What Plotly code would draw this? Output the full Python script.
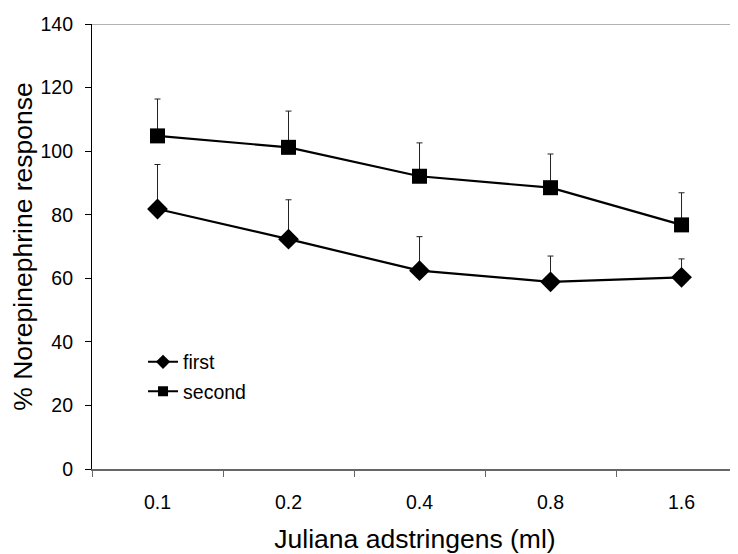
import plotly.graph_objects as go

doses = ["0.1", "0.2", "0.4", "0.8", "1.6"]
first = [81.8, 72.3, 62.4, 58.9, 60.3]
first_err = [14.0, 12.4, 10.7, 8.1, 5.8]
second = [104.8, 101.2, 92.1, 88.5, 76.8]
second_err = [11.6, 11.4, 10.5, 10.6, 10.1]
y_ticks = [0, 20, 40, 60, 80, 100, 120, 140]

FONT = "Liberation Sans, Arial, sans-serif"

fig = go.Figure()

def add_series(name, vals, errs, symbol, size, lsize):
    fig.add_trace(go.Scatter(
        x=doses, y=vals, mode="lines+markers", showlegend=False,
        line=dict(color="black", width=2.2),
        marker=dict(symbol=symbol, size=size, color="black"),
        error_y=dict(type="data", array=errs, arrayminus=[0]*len(errs),
                     symmetric=False, color="#222", thickness=1, width=3),
    ))
    fig.add_trace(go.Scatter(
        x=[None], y=[None], mode="lines+markers", name=name,
        legendgroup=name,
        line=dict(color="black", width=2),
        marker=dict(symbol=symbol, size=lsize, color="black"),
    ))

add_series("first", first, first_err, "diamond", 16, 11)
add_series("second", second, second_err, "square", 15, 10)

fig.add_shape(type="line", xref="paper", yref="y", x0=0, x1=1, y0=140, y1=140,
              line=dict(color="#999", width=1.5))

# The page body adds an 8px margin, so the figure is sized to fit the window.
fig.update_layout(
    width=730, height=546,
    margin=dict(l=84, r=0, t=16, b=85),
    paper_bgcolor="white", plot_bgcolor="white",
    font=dict(family=FONT, color="black", size=19.5),
    xaxis=dict(
        type="category", range=[-0.5, 4.431],
        tickson="boundaries", ticks="outside", ticklen=6, tickcolor="#666",
        showline=True, linecolor="#666", linewidth=2,
        showgrid=False, zeroline=False,
        tickfont=dict(size=19.5), ticklabelstandoff=15,
        title=dict(text="Juliana adstringens (ml)", font=dict(size=26.5), standoff=18),
        automargin=False,
    ),
    yaxis=dict(
        range=[0, 140], tickvals=y_ticks, ticks="outside", ticklen=6, tickcolor="black",
        showline=True, linecolor="black", linewidth=1.2,
        showgrid=False, zeroline=False,
        tickfont=dict(size=19.5), ticklabelstandoff=8,
        title=dict(text="% Norepinephrine response", font=dict(size=26.5), standoff=3),
        automargin=False,
    ),
    legend=dict(x=0.079, y=0.284, xanchor="left", yanchor="top",
                bgcolor="rgba(0,0,0,0)", font=dict(size=19.5),
                tracegroupgap=1, itemwidth=30),
)

fig.write_html("out.html")
